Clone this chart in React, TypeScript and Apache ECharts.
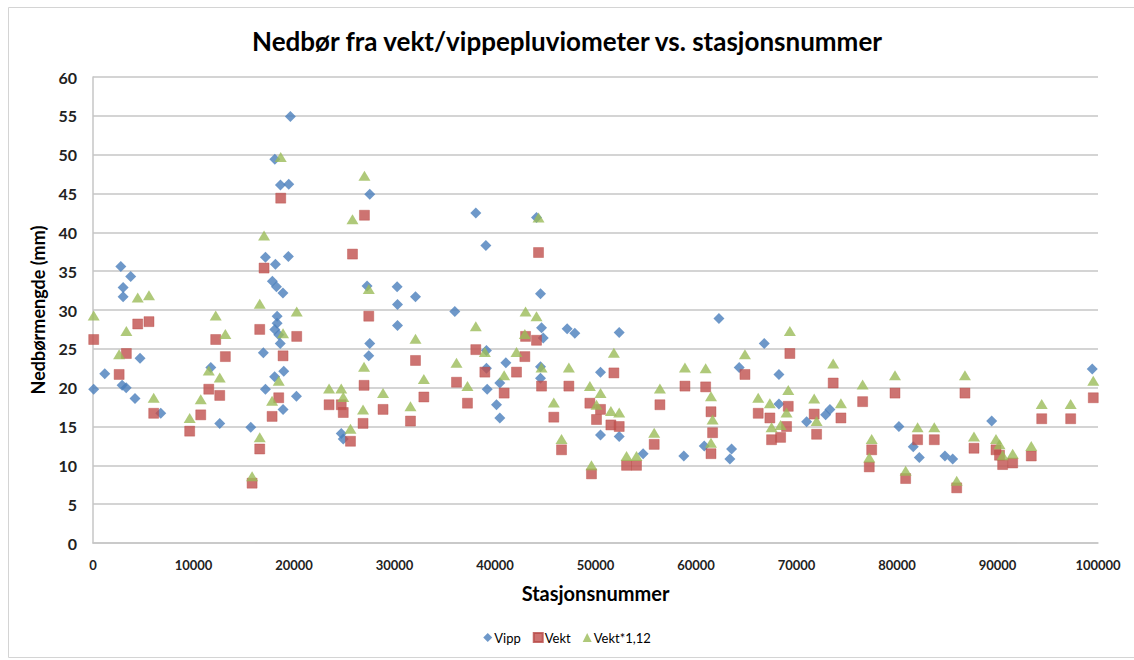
import React, { useEffect, useRef } from "react";
import * as echarts from "echarts";

const titleText = "Nedbør fra vekt/vippepluviometer vs. stasjonsnummer";
const xAxisName = "Stasjonsnummer";
const yAxisName = "Nedbørmengde (mm)";
const seriesNames = ["Vipp", "Vekt", "Vekt*1,12"];

const vippX = [
  70, 1170, 2770, 3000, 3000, 3750, 2900, 3300, 4680, 4180, 6740, 11720, 12610, 15700, 16950, 17160, 17160, 18150,
  17850, 18250, 18900, 19440, 19640, 18090, 18650, 19480, 18320, 18320, 18090, 18480, 18630, 18980, 18070, 18910,
  20240, 24700, 24900, 27540, 27270, 27540, 27440, 30260, 30300, 30300, 32090, 36000, 38090, 39090, 39150, 39150,
  39220, 40150, 40480, 40480, 41080, 44130, 44530, 44630, 44800, 44530, 44530, 47180, 47940, 50500, 50500, 52360,
  52360, 54740, 58790, 62280, 60820, 63540, 63370, 66790, 64300, 68250, 68250, 71010, 72900, 73330, 80190, 81620,
  82220, 84770, 85540, 89420, 99430,
];
const vippY = [
  19.8, 21.8, 35.6, 32.9, 31.7, 34.3, 20.3, 20.0, 23.8, 18.6, 16.7, 22.6, 15.4, 14.9, 24.5, 19.8, 36.8, 35.9,
  33.7, 33.0, 32.2, 36.9, 54.9, 49.4, 46.1, 46.2, 29.2, 28.3, 27.5, 26.8, 25.7, 22.1, 21.4, 17.2,
  18.9, 14.1, 13.4, 44.9, 33.1, 25.7, 24.1, 33.0, 30.7, 28.0, 31.7, 29.8, 42.5, 38.3, 24.8, 22.5,
  19.8, 17.8, 16.1, 20.6, 23.2, 41.9, 32.1, 27.7, 26.4, 22.7, 21.2, 27.6, 27.0, 22.0, 13.9, 27.1,
  13.7, 11.5, 11.2, 28.9, 12.5, 12.1, 10.8, 25.7, 22.6, 21.7, 17.9, 15.6, 16.5, 17.2, 15.0, 12.4,
  11.0, 11.2, 10.8, 15.7, 22.4,
];

const vektX = [
  70, 2600, 3320, 4450, 5570, 6040, 9620, 10720, 11520, 12210, 12610, 13170, 15830, 16590, 17020, 16590, 18680,
  18910, 18480, 17820, 20270, 23490, 24700, 24900, 25620, 25820, 27010, 27440, 26970, 26870, 28860, 31590, 32090,
  32920, 36170, 37260, 38090, 38990, 40910, 42140, 42970, 43040, 44130, 44330, 44630, 45850, 46620, 47350, 49440,
  49600, 50100, 50500, 51530, 52360, 51830, 53090, 54080, 55840, 56410, 58900, 60960, 61490, 61650, 61490, 64870,
  66190, 67350, 67520, 68420, 69010, 69180, 69340, 71760, 72000, 73650, 74420, 76580, 77480, 77240, 79800, 80860,
  82050, 83710, 85940, 86760, 87660, 89850, 90200, 90510, 91510, 93360, 94400, 97280, 99530,
];
const vektY = [
  26.2, 21.7, 24.4, 28.2, 28.5, 16.7, 14.4, 16.5, 19.8, 26.2, 19.0, 24.0, 7.7, 12.1, 35.4, 27.5, 44.4,
  24.1, 18.7, 16.3, 26.6, 17.8, 17.8, 16.8, 13.1, 37.2, 42.2, 29.2, 20.3, 15.4, 17.2, 15.7, 23.5,
  18.8, 20.7, 18.0, 24.9, 22.0, 19.3, 22.0, 24.0, 26.6, 26.1, 37.4, 20.2, 16.2, 12.0, 20.2, 18.0,
  8.9, 15.9, 17.2, 15.2, 15.0, 21.9, 10.0, 10.0, 12.7, 17.8, 20.2, 20.1, 16.9, 14.2, 11.5, 21.7,
  16.7, 16.1, 13.3, 13.6, 15.0, 17.6, 24.4, 16.6, 14.0, 20.6, 16.1, 18.2, 12.0, 9.8, 19.3, 8.3,
  13.3, 13.3, 7.1, 19.3, 12.2, 12.0, 11.3, 10.1, 10.3, 11.2, 16.0, 16.0, 18.7,
];
const vekt112Y = [
  29.3, 24.3, 27.3, 31.6, 31.9, 18.7, 16.1, 18.5, 22.2, 29.3, 21.3, 26.9, 8.6, 13.6, 39.6, 30.8, 49.7,
  27.0, 20.9, 18.3, 29.8, 19.9, 19.9, 18.8, 14.7, 41.7, 47.3, 32.7, 22.7, 17.2, 19.3, 17.6, 26.3,
  21.1, 23.2, 20.2, 27.9, 24.6, 21.6, 24.6, 26.9, 29.8, 29.2, 41.9, 22.6, 18.1, 13.4, 22.6, 20.2,
  10.0, 17.8, 19.3, 17.0, 16.8, 24.5, 11.2, 11.2, 14.2, 19.9, 22.6, 22.5, 18.9, 15.9, 12.9, 24.3,
  18.7, 18.0, 14.9, 15.2, 16.8, 19.7, 27.3, 18.6, 15.7, 23.1, 18.0, 20.4, 13.4, 11.0, 21.6, 9.3,
  14.9, 14.9, 8.0, 21.6, 13.7, 13.4, 12.7, 11.3, 11.5, 12.5, 17.9, 17.9, 20.9,
];

const zip = (xs: number[], ys: number[]) => xs.map((x, i) => [x, ys[i]]);

const FONT = "Lato, 'Open Sans', 'Liberation Sans', sans-serif";
const GRID_COLOR = "#c6c6c6";

export default function App() {
  const ref = useRef<HTMLDivElement>(null);
  useEffect(() => {
    if (!ref.current) return;
    const chart = echarts.init(ref.current, null, { renderer: "svg" });
    chart.setOption({
      animation: false,
      backgroundColor: "#ffffff",
      textStyle: { fontFamily: FONT },
      title: {
        text: titleText,
        left: "center",
        top: 23,
        textStyle: { fontFamily: FONT, fontWeight: "bold", fontSize: 26, color: "#000" },
      },
      graphic: [
        {
          type: "rect",
          shape: { x: 8.5, y: 7.5, width: 1140, height: 650 },
          style: { fill: "none", stroke: "#d4d4d4", lineWidth: 1 },
          silent: true,
        },
      ],
      legend: {
        bottom: 11,
        left: "center",
        itemWidth: 9,
        itemHeight: 9,
        itemGap: 12,
        textStyle: { fontFamily: FONT, fontSize: 13, color: "#000", padding: [0, 0, 0, -3] },
        data: [
          { name: seriesNames[0], icon: "diamond" },
          { name: seriesNames[1], icon: "rect" },
          { name: seriesNames[2], icon: "triangle" },
        ],
      },
      grid: { left: 93, right: 36, top: 77, bottom: 117, containLabel: false },
      xAxis: {
        type: "value",
        min: 0,
        max: 100000,
        interval: 10000,
        name: xAxisName,
        nameLocation: "middle",
        nameGap: 40,
        nameTextStyle: { fontFamily: FONT, fontWeight: "bold", fontSize: 20, color: "#000" },
        axisLine: { show: true, lineStyle: { color: GRID_COLOR, width: 1.5 } },
        axisTick: { show: false },
        splitLine: { show: false },
        axisLabel: {
          fontFamily: FONT,
          fontWeight: "bold",
          fontSize: 13,
          color: "#222",
          margin: 15,
          formatter: (v: number) => String(v),
        },
      },
      yAxis: {
        type: "value",
        min: 0,
        max: 60,
        interval: 5,
        name: yAxisName,
        nameLocation: "middle",
        nameGap: 46,
        nameTextStyle: { fontFamily: FONT, fontWeight: "bold", fontSize: 18, color: "#000" },
        axisLine: { show: true, lineStyle: { color: GRID_COLOR, width: 1.5 } },
        axisTick: { show: false },
        splitLine: { show: true, lineStyle: { color: GRID_COLOR, width: 1.5 } },
        axisLabel: { fontFamily: FONT, fontWeight: "bold", fontSize: 16, color: "#222", margin: 16 },
      },
      series: [
        {
          name: seriesNames[0],
          type: "scatter",
          symbol: "diamond",
          symbolSize: 11,
          itemStyle: { color: "#4A7EBB" },
          data: zip(vippX, vippY),
        },
        {
          name: seriesNames[1],
          type: "scatter",
          symbol: "rect",
          symbolSize: 10,
          itemStyle: { color: "#C0504D", borderColor: "#B84A47", borderWidth: 0.5 },
          data: zip(vektX, vektY),
        },
        {
          name: seriesNames[2],
          type: "scatter",
          symbol: "triangle",
          symbolSize: [12, 10],
          itemStyle: { color: "#9BBB59" },
          data: zip(vektX, vekt112Y),
        },
      ],
    });
    return () => chart.dispose();
  }, []);
  return (
    <div
      ref={ref}
      style={{ position: "fixed", left: 0, top: 0, width: 1134, height: 660 }}
    />
  );
}
